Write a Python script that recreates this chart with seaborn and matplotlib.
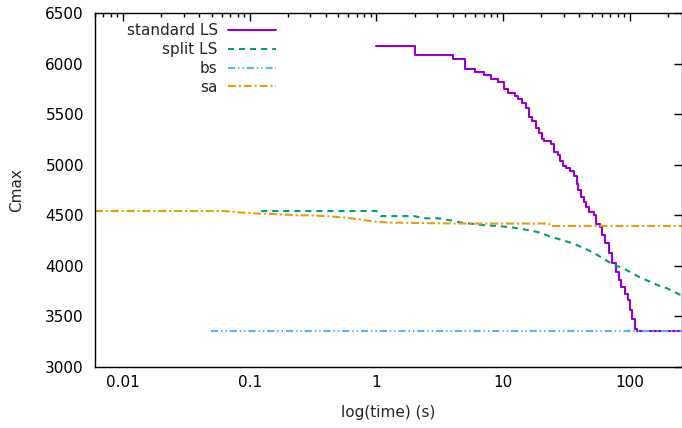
import pandas as pd
import seaborn as sns
import matplotlib.pyplot as plt
from matplotlib.ticker import LogLocator, NullFormatter

# standard LS (step curve)
std_time = [1, 2.02, 4.03, 5.0, 6.0, 7.08, 8.0, 9.1, 10.2, 11.0, 12.3, 13.1, 14.1,
            15.2, 16.0, 16.9, 18.2, 19.2, 20.3, 21.1, 23.9, 25.3, 27.1, 28.2, 29.8,
            31.5, 33.9, 36.4, 38.5, 39.2, 41.5, 43.1, 44.7, 47.3, 51.8, 53.8, 57.8,
            60.5, 63.4, 68.3, 72.0, 77.6, 81.8, 85.4, 91.5, 96.4, 100.3, 104, 110,
            113, 260]
std_cmax = [6170, 6080, 6040, 5950, 5915, 5890, 5845, 5820, 5750, 5705, 5675, 5645,
            5610, 5560, 5475, 5435, 5360, 5310, 5255, 5230, 5200, 5125, 5090, 5040,
            4990, 4970, 4935, 4890, 4810, 4745, 4680, 4630, 4580, 4530, 4500, 4415,
            4380, 4300, 4220, 4120, 4025, 3935, 3855, 3785, 3715, 3655, 3565, 3470,
            3370, 3350, 3350]

# split LS
split_time = [0.123, 1.0, 1.08, 1.98, 2.38, 3.06, 3.75, 4.66, 7.0, 8.8, 11.0, 13.4,
              16.6, 20.0, 23.1, 28.2, 33.8, 40, 47.2, 54.5, 63.4, 74.2, 87.2, 100,
              118, 139, 166, 197, 232, 262]
split_cmax = [4540, 4540, 4490, 4490, 4468, 4468, 4450, 4426, 4400, 4392, 4382, 4366,
              4347, 4323, 4290, 4258, 4228, 4192, 4152, 4110, 4060, 4007, 3977, 3938,
              3888, 3849, 3806, 3774, 3730, 3698]

# bs
bs_time = [0.049, 262]
bs_cmax = [3350, 3350]

# sa
sa_time = [0.006, 0.063, 0.085, 0.116, 0.167, 0.24, 0.30, 0.41, 0.56, 0.76, 1.0,
           1.24, 4.4, 23, 23.5, 262]
sa_cmax = [4540, 4540, 4525, 4515, 4508, 4498, 4498, 4488, 4475, 4455, 4432, 4426,
           4416, 4416, 4392, 4392]

xticks = [0.01, 0.1, 1, 10, 100]
xtick_labels = ["0.01", "0.1", "1", "10", "100"]
yticks = [3000, 3500, 4000, 4500, 5000, 5500, 6000, 6500]

sns.set_style("white")
plt.rcParams["font.family"] = ["DejaVu Sans"]
plt.rcParams["font.size"] = 11

fig = plt.figure(figsize=(6.82, 4.28), dpi=100)
ax = fig.add_axes([95 / 682, 1 - 366.6 / 428, 1 - 95 / 682, (366.6 - 13) / 428])

lw = 1.5
sns.lineplot(x=std_time, y=std_cmax, ax=ax, color="#9400D3", lw=lw,
             drawstyle="steps-post", label="standard LS", sort=False)
sns.lineplot(x=split_time, y=split_cmax, ax=ax, color="#009E73", lw=lw,
             linestyle=(0, (2.9, 2.4)), label="split LS", sort=False)
sns.lineplot(x=bs_time, y=bs_cmax, ax=ax, color="#56B4E9", lw=lw,
             linestyle=(0, (3.4, 1.4, 0.7, 1.4, 0.7, 1.4)), label="bs", sort=False)
sns.lineplot(x=sa_time, y=sa_cmax, ax=ax, color="#E69F00", lw=lw,
             linestyle=(0, (3.8, 1.4, 1.0, 1.4)), label="sa", sort=False)

ax.set_xscale("log")
ax.set_xlim(0.006, 258)
ax.set_ylim(3000, 6500)
ax.set_xticks(xticks, xtick_labels)
ax.xaxis.set_minor_locator(LogLocator(base=10, subs=range(2, 10), numticks=20))
ax.xaxis.set_minor_formatter(NullFormatter())
ax.set_yticks(yticks)

for s in ax.spines.values():
    s.set_color("black")
    s.set_linewidth(1.0)
ax.tick_params(which="both", direction="in", top=True, right=True, colors="black",
               labelsize=11)
ax.tick_params(which="major", length=6, width=1, pad=6)
ax.tick_params(which="minor", length=3, width=1)
ax.tick_params(axis="y", pad=8)

ax.set_xlabel("log(time) (s)", fontsize=11, labelpad=11)
ax.set_ylabel("Cmax", fontsize=11, labelpad=15)

leg = ax.legend(loc="upper right", bbox_to_anchor=(0.308, 0.971), frameon=False,
                markerfirst=False, borderpad=0, borderaxespad=0, handlelength=3.1,
                handletextpad=0.7, labelspacing=0.25, fontsize=11)

fig.savefig("out.png", dpi=100)
